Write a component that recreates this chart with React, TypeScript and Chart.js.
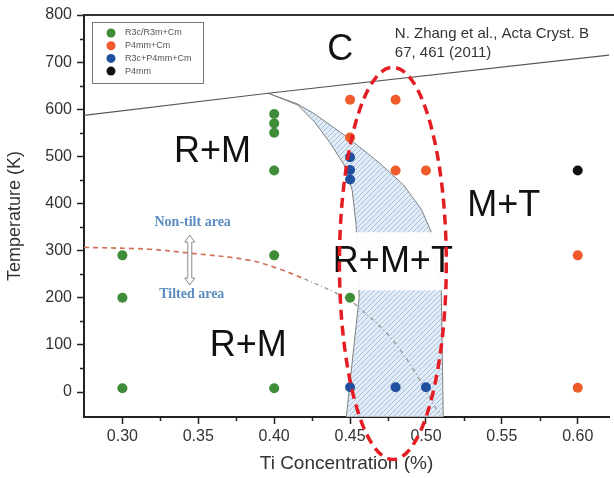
import React, { useEffect, useRef } from "react";
import { Chart, registerables } from "chart.js";

Chart.register(...registerables);

const FONT = "'Liberation Sans', Arial, sans-serif";

// Axis ranges / ticks
const xMin = 0.2747;
const xMax = 0.6206;
const yMin = -53;
const yMax = 800;
const xTicks = [0.3, 0.35, 0.4, 0.45, 0.5, 0.55, 0.6];
const xMinorTicks = [0.325, 0.375, 0.425, 0.475, 0.525, 0.575];
const yTicks = [0, 100, 200, 300, 400, 500, 600, 700, 800];
const yMinorTicks = [50, 150, 250, 350, 450, 550, 650, 750];

// Series (Ti fraction, Temperature K)
const seriesLabels = ["R3c/R3m+Cm", "P4mm+Cm", "R3c+P4mm+Cm", "P4mm"];
const seriesColors = ["#3f8c39", "#f15a2b", "#1f50a0", "#111111"];
const greenX = [0.3, 0.3, 0.3, 0.4, 0.4, 0.4, 0.4, 0.4, 0.4, 0.45];
const greenY = [290, 200, 8, 590, 570, 550, 470, 290, 8, 200];
const orangeX = [0.45, 0.48, 0.45, 0.48, 0.5, 0.6, 0.6];
const orangeY = [620, 620, 540, 470, 470, 290, 9];
const blueX = [0.45, 0.45, 0.45, 0.45, 0.48, 0.5];
const blueY = [498, 471, 451, 10, 10, 10];
const blackX = [0.6];
const blackY = [470];

// Cubic boundary (C phase)
const cLineX = [0.2747, 0.396, 0.6206];
const cLineY = [587, 634, 715];

// R+M+T region boundaries
const regionLeftX = [0.396, 0.4155, 0.4266, 0.437, 0.4462, 0.4514, 0.454, 0.456, 0.4475];
const regionLeftY = [634, 609, 573, 528, 481, 428, 354, 201, -53];
const regionRightX = [0.396, 0.4155, 0.4266, 0.4481, 0.4697, 0.4853, 0.4971, 0.5036, 0.5101, 0.5114];
const regionRightY = [634, 611, 590, 541, 485, 439, 387, 339, 216, -53];

// Tilt boundary
const tiltRedX = [0.2747, 0.3176, 0.3437, 0.3829, 0.4025, 0.42];
const tiltRedY = [307, 303, 295, 280, 262, 240];
const tiltGrayX = [0.42, 0.4416, 0.4527, 0.4808, 0.5095];
const tiltGrayY = [240, 209, 188, 99, -50];

// Annotations
const phaseLabels = ["C", "R+M", "M+T", "R+M+T", "R+M"];
const phaseLabelX = [0.4436, 0.3594, 0.5513, 0.4782, 0.3829];
const phaseLabelY = [726, 509, 394, 275, 97];
const citeLines = ["N. Zhang et al., Acta Cryst. B", "67, 461 (2011)"];
const citeX = 0.4795;
const citeY = [759, 719];
const tiltLabels = ["Non-tilt area", "Tilted area"];
const tiltLabelX = [0.3463, 0.3457];
const tiltLabelY = [360, 207];
const arrowX = 0.3444;
const arrowY = [333, 227];
const boxX = [0.4384, 0.5167];
const boxY = [216, 339];
const ellipseCenter = [0.4782, 273];
const ellipseRadius = [0.0352, 416];

const zip = (xs: number[], ys: number[]) => xs.map((x, i) => ({ x, y: ys[i] }));

export default function App() {
  const ref = useRef<HTMLCanvasElement>(null);

  useEffect(() => {
    const canvas = ref.current!;
    const pc = document.createElement("canvas");
    pc.width = 5;
    pc.height = 5;
    const p = pc.getContext("2d")!;
    p.fillStyle = "#e2ecf7";
    p.fillRect(0, 0, 5, 5);
    p.strokeStyle = "#a8c2dc";
    p.lineWidth = 1;
    p.beginPath();
    p.moveTo(0, 5);
    p.lineTo(5, 0);
    p.moveTo(-2.5, 2.5);
    p.lineTo(2.5, -2.5);
    p.moveTo(2.5, 7.5);
    p.lineTo(7.5, 2.5);
    p.stroke();
    const pattern = canvas.getContext("2d")!.createPattern(pc, "repeat");

    const polyX = regionLeftX.concat(regionRightX.slice().reverse());
    const polyY = regionLeftY.concat(regionRightY.slice().reverse());

    const scatterSets = [
      [greenX, greenY],
      [orangeX, orangeY],
      [blueX, blueY],
      [blackX, blackY],
    ].map(([xs, ys], i) => ({
      label: seriesLabels[i],
      data: zip(xs, ys),
      backgroundColor: seriesColors[i],
      borderColor: seriesColors[i],
      pointRadius: 5,
      pointBorderWidth: 0,
      showLine: false,
      order: 0,
    }));

    const overlay = {
      id: "overlay",
      afterDatasetsDraw(chart: any) {
        const { ctx, chartArea: a, scales } = chart;
        const sx = scales.x;
        const sy = scales.y;
        const px = (v: number) => sx.getPixelForValue(v);
        const py = (v: number) => sy.getPixelForValue(v);
        ctx.save();

        // white box behind R+M+T
        ctx.fillStyle = "rgba(255,255,255,0.94)";
        ctx.fillRect(px(boxX[0]), py(boxY[1]), px(boxX[1]) - px(boxX[0]), py(boxY[0]) - py(boxY[1]));

        // top frame line
        ctx.strokeStyle = "#333";
        ctx.lineWidth = 2;
        ctx.beginPath();
        ctx.moveTo(a.left, a.top);
        ctx.lineTo(a.right + 10, a.top);
        ctx.stroke();

        // minor ticks
        ctx.strokeStyle = "#222";
        ctx.lineWidth = 1.5;
        ctx.beginPath();
        xMinorTicks.forEach((v) => {
          const X = Math.round(px(v)) + 0.5;
          ctx.moveTo(X, a.bottom);
          ctx.lineTo(X, a.bottom + 4);
        });
        yMinorTicks.forEach((v) => {
          const Y = Math.round(py(v)) + 0.5;
          ctx.moveTo(a.left - 4, Y);
          ctx.lineTo(a.left, Y);
        });
        ctx.stroke();

        // phase labels
        ctx.fillStyle = "#111";
        ctx.textAlign = "center";
        ctx.textBaseline = "middle";
        ctx.font = `36px ${FONT}`;
        phaseLabels.forEach((t, i) => ctx.fillText(t, px(phaseLabelX[i]), py(phaseLabelY[i])));

        // citation
        ctx.fillStyle = "#333";
        ctx.textAlign = "left";
        ctx.font = `15px ${FONT}`;
        citeLines.forEach((t, i) => ctx.fillText(t, px(citeX), py(citeY[i])));

        // tilt labels
        ctx.fillStyle = "#5a8cc0";
        ctx.textAlign = "center";
        ctx.font = `bold 14px 'Liberation Serif', 'DejaVu Serif', serif`;
        tiltLabels.forEach((t, i) => ctx.fillText(t, px(tiltLabelX[i]), py(tiltLabelY[i])));

        // double arrow
        const ax = px(arrowX);
        const ay1 = py(arrowY[0]);
        const ay2 = py(arrowY[1]);
        const hw = 2, hh = 7, aw = 5;
        ctx.beginPath();
        ctx.moveTo(ax, ay1);
        ctx.lineTo(ax + aw, ay1 + hh);
        ctx.lineTo(ax + hw, ay1 + hh);
        ctx.lineTo(ax + hw, ay2 - hh);
        ctx.lineTo(ax + aw, ay2 - hh);
        ctx.lineTo(ax, ay2);
        ctx.lineTo(ax - aw, ay2 - hh);
        ctx.lineTo(ax - hw, ay2 - hh);
        ctx.lineTo(ax - hw, ay1 + hh);
        ctx.lineTo(ax - aw, ay1 + hh);
        ctx.closePath();
        ctx.fillStyle = "#fff";
        ctx.fill();
        ctx.strokeStyle = "#8a8a8a";
        ctx.lineWidth = 1;
        ctx.stroke();

        // red dashed ellipse
        const ecx = px(ellipseCenter[0]);
        const ecy = py(ellipseCenter[1]);
        const erx = px(ellipseCenter[0] + ellipseRadius[0]) - ecx;
        const ery = ecy - py(ellipseCenter[1] + ellipseRadius[1]);
        ctx.setLineDash([10, 6]);
        ctx.lineWidth = 3.5;
        ctx.strokeStyle = "#e31d23";
        ctx.beginPath();
        ctx.ellipse(ecx, ecy, erx, ery, 0, 0, Math.PI * 2);
        ctx.stroke();
        ctx.setLineDash([]);

        // legend
        const lx = a.left + 8;
        const ly = a.top + 7;
        ctx.fillStyle = "#fff";
        ctx.fillRect(lx, ly, 111, 61);
        ctx.strokeStyle = "#777";
        ctx.lineWidth = 1;
        ctx.strokeRect(lx + 0.5, ly + 0.5, 111, 61);
        ctx.font = `9px ${FONT}`;
        ctx.textAlign = "left";
        ctx.textBaseline = "middle";
        seriesLabels.forEach((t, i) => {
          const ry = ly + 11 + i * 12.7;
          ctx.fillStyle = seriesColors[i];
          ctx.beginPath();
          ctx.arc(lx + 19, ry, 4.5, 0, Math.PI * 2);
          ctx.fill();
          ctx.fillStyle = "#555";
          ctx.fillText(t, lx + 33, ry);
        });

        ctx.restore();
      },
    };

    const padding = { top: 15, left: 0, right: 0, bottom: 0 };
    const chart = new Chart(canvas, {
      type: "scatter",
      data: {
        datasets: [
          ...scatterSets,
          {
            label: "C boundary",
            data: zip(cLineX, cLineY),
            showLine: true,
            pointRadius: 0,
            borderColor: "#555",
            borderWidth: 1.2,
            order: 2,
          },
          {
            label: "tilt red",
            data: zip(tiltRedX, tiltRedY),
            showLine: true,
            pointRadius: 0,
            borderColor: "#cf7258",
            borderWidth: 1.7,
            borderDash: [5, 4],
            tension: 0.4,
            order: 3,
          },
          {
            label: "tilt gray",
            data: zip(tiltGrayX, tiltGrayY),
            showLine: true,
            pointRadius: 0,
            borderColor: "#999",
            borderWidth: 1.4,
            borderDash: [4, 3, 1, 3],
            tension: 0.4,
            order: 3,
          },
          {
            label: "region",
            data: zip(polyX, polyY),
            showLine: true,
            pointRadius: 0,
            borderColor: "#808080",
            borderWidth: 1,
            backgroundColor: pattern as any,
            fill: "shape",
            tension: 0,
            order: 5,
          },
        ] as any,
      },
      options: {
        responsive: false,
        animation: false,
        devicePixelRatio: 1,
        layout: { padding },
        plugins: { legend: { display: false }, tooltip: { enabled: false } },
        scales: {
          x: {
            type: "linear",
            min: xMin,
            max: xMax,
            afterBuildTicks: (s: any) => {
              s.ticks = xTicks.map((v) => ({ value: v }));
            },
            afterFit: (s: any) => {
              s.height = 61;
              s.paddingLeft = 0;
              s.paddingRight = 0;
            },
            grid: { drawOnChartArea: false, drawTicks: true, tickLength: 7, tickColor: "#222", tickWidth: 1.5 },
            border: { display: true, color: "#222", width: 2 },
            ticks: {
              font: { family: FONT, size: 16 },
              color: "#333",
              padding: 3,
              maxRotation: 0,
              autoSkip: false,
              callback: (v: any) => Number(v).toFixed(2),
            },
            title: {
              display: true,
              text: "Ti Concentration (%)",
              font: { family: FONT, size: 19 },
              color: "#333",
              padding: { top: 4, bottom: 2.6 },
            },
          },
          y: {
            type: "linear",
            min: yMin,
            max: yMax,
            afterBuildTicks: (s: any) => {
              s.ticks = yTicks.map((v) => ({ value: v }));
            },
            afterFit: (s: any) => {
              s.width = 84;
              s.paddingTop = 0;
              s.paddingBottom = 0;
            },
            grid: { drawOnChartArea: false, drawTicks: true, tickLength: 7, tickColor: "#222", tickWidth: 1.5 },
            border: { display: true, color: "#222", width: 2 },
            ticks: {
              font: { family: FONT, size: 16 },
              color: "#333",
              padding: 5,
              autoSkip: false,
              callback: (v: any) => String(v),
            },
            title: {
              display: true,
              text: "Temperature (K)",
              font: { family: FONT, size: 18 },
              color: "#333",
              padding: { top: 4, bottom: 4 },
            },
          },
        },
      },
      plugins: [overlay],
    });

    // nudge the plot area onto the reference frame (left 84, top 15, right 614, bottom 417)
    for (let k = 0; k < 3; k++) {
      const ca = chart.chartArea;
      const dr = 614 - ca.right;
      const dt = 15 - ca.top;
      const db = 417 - ca.bottom;
      if (Math.abs(dr) < 0.3 && Math.abs(dt) < 0.3 && Math.abs(db) < 0.3) break;
      padding.right -= dr;
      padding.top += dt;
      padding.bottom -= db;
      (chart.options as any).layout.padding = { ...padding };
      chart.update();
    }

    return () => chart.destroy();
  }, []);

  return (
    <div
      style={{
        position: "fixed",
        left: 0,
        top: 0,
        width: 614,
        height: 478,
        overflow: "hidden",
        background: "#fff",
      }}
    >
      <canvas ref={ref} width={614} height={478} style={{ display: "block", width: 614, height: 478 }} />
    </div>
  );
}
